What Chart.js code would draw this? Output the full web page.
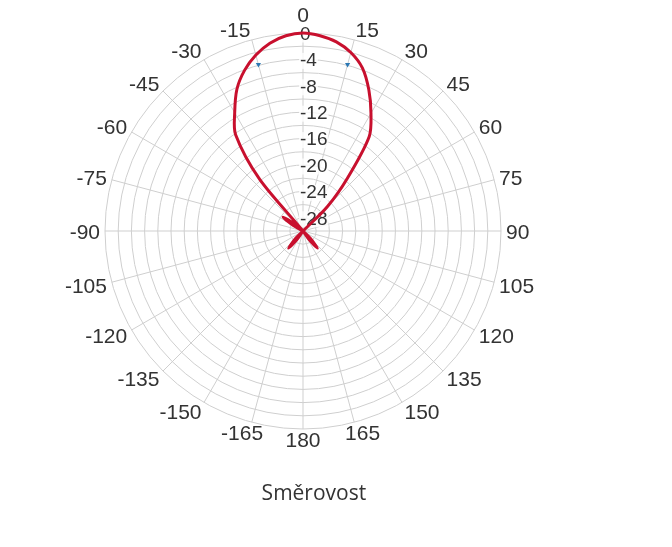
<!DOCTYPE html>
<html>
<head>
<meta charset="utf-8">
<title>Směrovost</title>
<script src="https://cdn.jsdelivr.net/npm/chart.js@4.4.1/dist/chart.umd.min.js"></script>
<style>
  body { margin: 0; background: #fff; }
  canvas { display: block; }
</style>
</head>
<body>
<canvas id="myChart" width="672" height="547"></canvas>
<script>
// uhly ve stupnich, 0 nahore, po smeru hodin
const uhly = [
  0, 5, 10, 15, 20, 25, 30, 35, 40, 45, 50, 55, 60, 65, 70, 75, 80, 85,
  90, 95, 100, 105, 110, 115, 120, 125, 130, 135, 140, 145, 150, 155, 160, 165, 170, 175,
  180, -175, -170, -165, -160, -155, -150, -145, -140, -135, -130, -125, -120, -115, -110, -105,
  -100, -95, -90, -85, -80, -75, -70, -65, -60, -55, -50, -45, -40, -35, -30, -25, -20, -15, -10, -5
];

// smerovost v dB
const smerovost = [
  0, -0.3, -0.9, -2.0, -3.7, -6.4, -9.4, -12.5, -19.5, -24.8, -30, -30, -30, -30, -30, -30, -30, -30,
  -30, -30, -30, -30, -30, -30, -30, -30, -30, -28.4, -26.6, -28.4, -30, -30, -30, -30, -30, -30,
  -30, -30, -30, -30, -30, -30, -30, -28.4, -26.6, -28.4, -30, -30, -30, -30, -30, -30,
  -30, -30, -30, -30, -30, -30, -30, -30, -28.4, -26.3, -28.4, -30, -19.8, -12.2, -9.3, -6.3, -4.1, -2.4, -1.1, -0.3
];

// znacky -3 dB
const znackyUhly = [15, -15];
const znackyHodnoty = [-3.9, -3.9];

// popisky osy dB
const dbPopisky = [0, -4, -8, -12, -16, -20, -24, -28];

const popisky = {
  id: "popisky",
  beforeDatasetsDraw(chart) {
    const r = chart.scales.r;
    const ctx = chart.ctx;
    ctx.save();
    ctx.textBaseline = "middle";

    // dB
    ctx.font = "19px 'Liberation Sans', Arial, sans-serif";
    ctx.textAlign = "left";
    let nulaTop = 0;
    dbPopisky.forEach(v => {
      const d = r.getDistanceFromCenterForValue(v);
      const t = String(v);
      const w = ctx.measureText(t).width;
      const x = r.xCenter - 3;
      const y = r.yCenter - d + 1.5;
      if (v === 0) nulaTop = y - 8;
      ctx.fillStyle = "rgba(255,255,255,0.8)";
      ctx.fillRect(x - 1, y - 8, w + 2, 16);
      ctx.fillStyle = "#333";
      ctx.fillText(t, x, y);
    });

    // uhly
    ctx.font = "21px 'Liberation Sans', Arial, sans-serif";
    ctx.fillStyle = "#333";
    ctx.textAlign = "center";
    chart.data.labels.forEach((u, i) => {
      if (u % 15 !== 0) return;
      const a = u * Math.PI / 180;
      const t = String(u);
      const w = ctx.measureText(t).width;
      const p = r.getPointPosition(i, r.drawingArea + 5);
      const f = Math.abs(u) >= 160 ? 0.4 : 1;
      const x = p.x + Math.sign(u) * (u === 180 ? 0 : 1) * f * w / 2;
      let y = p.y + 1.75 - 5.75 * Math.cos(a);
      if (u === 0) y = Math.min(y, nulaTop - 10);
      ctx.fillText(t, x, y);
    });
    ctx.restore();
  }
};

const ctx = document.getElementById("myChart");
const myChart = new Chart(ctx, {
  type: "radar",
  data: {
    labels: uhly,
    datasets: [
      {
        label: "Směrovost",
        data: smerovost,
        borderColor: "#c8102e",
        borderWidth: 3,
        borderJoinStyle: "round",
        borderCapStyle: "round",
        tension: 0.3,
        pointRadius: 0,
        fill: false,
      },
      {
        label: "-3 dB",
        data: uhly.map(u => {
          const k = znackyUhly.indexOf(u);
          return k >= 0 ? znackyHodnoty[k] : null;
        }),
        showLine: false,
        pointStyle: "triangle",
        pointRotation: 180,
        pointRadius: 3,
        pointBorderWidth: 0,
        pointBackgroundColor: "#2b78b4",
        pointBorderColor: "#2b78b4",
      },
    ],
  },
  options: {
    responsive: false,
    animation: false,
    layout: { padding: { top: 33, bottom: 40, left: 0, right: 66 } },
    plugins: {
      legend: { display: false },
      tooltip: { enabled: false },
      title: {
        display: true,
        text: "    Směrovost",
        position: "bottom",
        color: "#333",
        font: { family: "'Open Sans', sans-serif", size: 21, weight: "normal" },
        padding: { top: 52, bottom: 0 },
      },
    },
    scales: {
      r: {
        min: -30,
        max: 0,
        ticks: { stepSize: 2, display: false },
        grid: { color: "#cfcfcf", lineWidth: 1, circular: true },
        angleLines: {
          color: "#cfcfcf",
          lineWidth: c => (c.index % 3 === 0 ? 1 : 0),
        },
        pointLabels: { display: false },
      },
    },
  },
  plugins: [popisky],
});
</script>
</body>
</html>
